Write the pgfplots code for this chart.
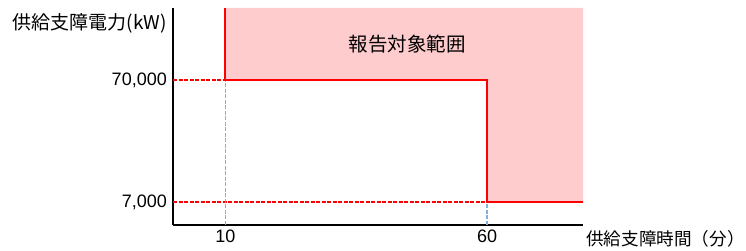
\documentclass[border=0pt]{standalone}
\usepackage{pgfplots}
\pgfplotsset{compat=1.18}
\usepackage{fontspec}
\setmainfont{Noto Sans CJK JP}
\newfontfamily\numfont{Liberation Sans}
\definecolor{pinkfill}{RGB}{255,204,206}
\definecolor{lblue}{RGB}{130,175,220}
\begin{document}
\begin{tikzpicture}[x=1bp,y=1bp]
\useasboundingbox (0,0) rectangle (746,250);
\begin{axis}[
  at={(173bp,25bp)}, anchor=south west,
  scale only axis, width=410bp, height=217bp,
  xmin=0, xmax=78.32,
  ymode=log, ymin=4536, ymax=272400,
  axis x line=bottom, axis y line=left,
  axis line style={line width=2bp, -},
  xtick={10,60}, xticklabels={\mbox{\numfont 10},\mbox{\numfont 60}},
  ytick={7000,70000}, yticklabels={{\mbox{\numfont 7,000}},{\mbox{\numfont 70,000}}},
  major tick length=0pt,
  /pgf/number format/assume math mode=true,
  tick label style={font=\numfont\fontsize{18bp}{22bp}\selectfont, inner sep=0pt},
  xticklabel style={yshift=-5bp},
  yticklabel style={xshift=-6bp},
  clip=false,
]
\addplot[fill=pinkfill, draw=none] coordinates {(10,272400) (10,70000) (60,70000) (60,7000) (78.32,7000) (78.32,272400)} -- cycle;
\addplot[red, line width=1.3bp, dash pattern=on 4bp off 1.5bp] coordinates {(0,70000) (10,70000)};
\addplot[red, line width=1.3bp, dash pattern=on 4bp off 1.5bp] coordinates {(0,7000) (60,7000)};
\addplot[lblue, line width=1.3bp, dash pattern=on 4bp off 1.5bp] coordinates {(10,4536) (10,70000)};
\addplot[lblue, line width=1.3bp, dash pattern=on 4bp off 1.5bp] coordinates {(60,4536) (60,7000)};
\addplot[red, line width=2.2bp] coordinates {(10,272400) (10,70000) (60,70000) (60,7000) (78.32,7000)};
\node[font=\fontsize{19.5bp}{22bp}\selectfont] at (axis cs:44.7,138000) {報告対象範囲};
\node[anchor=east, inner sep=0pt, font=\fontsize{19bp}{22bp}\selectfont] at ([xshift=-6bp]rel axis cs:0,0.931) {供給支障電力(kW)};
\node[anchor=west, inner sep=0pt, font=\fontsize{17.6bp}{21bp}\selectfont] at ([xshift=3bp,yshift=-14bp]rel axis cs:1,0) {供給支障時間（分）};
\end{axis}
\end{tikzpicture}
\end{document}
